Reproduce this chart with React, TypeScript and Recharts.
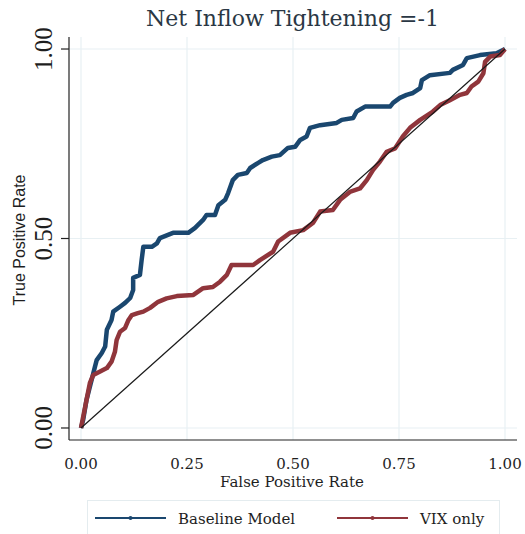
import React from 'react';
import { LineChart, Line, XAxis, YAxis, CartesianGrid, Legend, Label } from 'recharts';

const titleText = 'Net Inflow Tightening =-1';
const xTicks = [0, 0.25, 0.5, 0.75, 1];
const yTicks = [0, 0.5, 1];

const baselineFpr = [0, 0.005, 0.013, 0.033, 0.037, 0.049, 0.057, 0.061, 0.072, 0.076, 0.092, 0.104, 0.116, 0.123, 0.123, 0.139, 0.143, 0.147, 0.167, 0.179, 0.186, 0.217, 0.253, 0.269, 0.288, 0.296, 0.316, 0.324, 0.34, 0.347, 0.358, 0.37, 0.391, 0.399, 0.417, 0.429, 0.45, 0.469, 0.488, 0.505, 0.517, 0.532, 0.54, 0.564, 0.603, 0.615, 0.642, 0.65, 0.67, 0.729, 0.736, 0.752, 0.768, 0.783, 0.8, 0.804, 0.823, 0.87, 0.877, 0.901, 0.91, 0.941, 0.98, 1];
const baselineTpr = [0, 0.021, 0.074, 0.162, 0.179, 0.198, 0.215, 0.259, 0.285, 0.307, 0.32, 0.33, 0.343, 0.364, 0.396, 0.404, 0.443, 0.478, 0.478, 0.487, 0.501, 0.515, 0.515, 0.528, 0.549, 0.562, 0.562, 0.588, 0.602, 0.62, 0.654, 0.668, 0.673, 0.686, 0.699, 0.707, 0.716, 0.72, 0.739, 0.742, 0.76, 0.769, 0.792, 0.799, 0.805, 0.813, 0.818, 0.835, 0.848, 0.848, 0.858, 0.871, 0.879, 0.884, 0.897, 0.918, 0.931, 0.937, 0.945, 0.958, 0.976, 0.984, 0.989, 1];

const vixFpr = [0, 0.013, 0.021, 0.029, 0.045, 0.061, 0.072, 0.08, 0.084, 0.092, 0.104, 0.112, 0.12, 0.134, 0.147, 0.163, 0.182, 0.202, 0.226, 0.265, 0.288, 0.311, 0.328, 0.344, 0.355, 0.406, 0.422, 0.453, 0.465, 0.493, 0.524, 0.547, 0.564, 0.594, 0.611, 0.634, 0.658, 0.674, 0.689, 0.705, 0.721, 0.741, 0.759, 0.776, 0.8, 0.83, 0.847, 0.87, 0.894, 0.91, 0.921, 0.937, 0.949, 0.953, 0.965, 0.988, 1];
const vixTpr = [0, 0.074, 0.119, 0.14, 0.149, 0.158, 0.175, 0.201, 0.232, 0.254, 0.264, 0.285, 0.298, 0.303, 0.307, 0.317, 0.333, 0.342, 0.348, 0.351, 0.369, 0.372, 0.386, 0.404, 0.43, 0.43, 0.443, 0.465, 0.492, 0.515, 0.522, 0.541, 0.571, 0.575, 0.602, 0.623, 0.632, 0.654, 0.681, 0.703, 0.729, 0.738, 0.769, 0.792, 0.813, 0.835, 0.852, 0.865, 0.879, 0.884, 0.901, 0.914, 0.936, 0.966, 0.98, 0.984, 1];

const refFpr = [0, 1];
const refTpr = [0, 1];

const seriesNames = ['Baseline Model', 'VIX only'];
const BLUE = '#1a476f';
const RED = '#90353b';

const toPoints = (xs: number[], ys: number[]) => xs.map((x, i) => ({ x, y: ys[i] }));
const baselineData = toPoints(baselineFpr, baselineTpr);
const vixData = toPoints(vixFpr, vixTpr);
const refData = toPoints(refFpr, refTpr);

const SERIF = '"Liberation Serif", "DejaVu Serif", serif';
const SERIF2 = '"DejaVu Serif", serif';
const SANS = '"Liberation Sans", Arial, sans-serif';

const XTick = (props: any) => {
  const { x, y, payload } = props;
  return (
    <text x={x} y={y + 21} textAnchor="middle" fontFamily={SERIF2} fontSize={15} fill="#1e1e1e">
      {Number(payload.value).toFixed(2)}
    </text>
  );
};

const YTick = (props: any) => {
  const { y, payload } = props;
  const bx = 52;
  return (
    <text x={bx} y={y} transform={`rotate(-90, ${bx}, ${y})`} textAnchor="middle" fontFamily={SERIF} fontSize={25} fill="#1e1e1e">
      {Number(payload.value).toFixed(2)}
    </text>
  );
};

const LegendContent = () => {
  const items = [
    { name: seriesNames[0], color: BLUE, x0: 95, tx: 178 },
    { name: seriesNames[1], color: RED, x0: 337, tx: 420 },
  ];
  return (
    <svg width={525} height={40} style={{ display: 'block' }}>
      <rect x={87.5} y={0.5} width={412} height={45} fill="#fff" stroke="#e4ecef" strokeWidth={1} />
      {items.map((it) => (
        <g key={it.name}>
          <line x1={it.x0} x2={it.x0 + 71} y1={18} y2={18} stroke={it.color} strokeWidth={2} />
          <circle cx={it.x0 + 35.5} cy={18} r={2} fill={it.color} />
          <text x={it.tx} y={24} fontFamily={SERIF2} fontSize={15} fill="#1e1e1e">{it.name}</text>
        </g>
      ))}
    </svg>
  );
};

export default function App() {
  return (
    <div style={{ position: 'absolute', left: 0, top: 0, width: 525, height: 534, background: '#fff', overflow: 'hidden' }}>
      <div style={{ position: 'absolute', left: 0, top: 3, width: 585, textAlign: 'center', fontFamily: SERIF2, fontSize: 22, color: '#2a3744', lineHeight: '32px' }}>
        {titleText}
      </div>
      <LineChart width={525} height={534} margin={{ top: 37, right: 8, left: 0, bottom: 0 }} style={{ position: 'absolute', left: 0, top: 0 }}>
        <CartesianGrid stroke="#e8f0f3" strokeWidth={1.2} horizontalValues={yTicks} verticalValues={xTicks} />
        <XAxis
          type="number"
          dataKey="x"
          domain={[-0.0283, 1.0283]}
          ticks={xTicks}
          interval={0}
          allowDataOverflow
          height={94}
          axisLine={{ stroke: '#222', strokeWidth: 1.2 }}
          tickLine={false}
          tick={<XTick />}
        >
          <Label
            content={() => (
              <text x={292} y={487} textAnchor="middle" fontFamily={SERIF2} fontSize={15} fill="#1e1e1e">
                False Positive Rate
              </text>
            )}
          />
        </XAxis>
        <YAxis
          type="number"
          dataKey="y"
          domain={[-0.0317, 1.0317]}
          ticks={yTicks}
          interval={0}
          allowDataOverflow
          width={69}
          axisLine={{ stroke: '#222', strokeWidth: 1.2 }}
          tickLine={{ stroke: '#222', strokeWidth: 1.2 }}
          tickSize={8}
          tick={<YTick />}
        >
          <Label
            content={() => (
              <text x={25} y={240} transform="rotate(-90, 25, 240)" textAnchor="middle" fontFamily={SANS} fontSize={16} fill="#1e1e1e">
                True Positive Rate
              </text>
            )}
          />
        </YAxis>
        <Legend
          verticalAlign="middle"
          align="center"
          layout="horizontal"
          content={<LegendContent />}
          wrapperStyle={{ position: 'absolute', left: 0, top: 500, width: 525, height: 40 }}
        />
        <Line data={baselineData} dataKey="y" name={seriesNames[0]} stroke={BLUE} strokeWidth={4.5} dot={false} isAnimationActive={false} strokeLinejoin="round" />
        <Line data={vixData} dataKey="y" name={seriesNames[1]} stroke={RED} strokeWidth={4.5} dot={false} isAnimationActive={false} strokeLinejoin="round" />
        <Line data={refData} dataKey="y" stroke="#1a1a1a" strokeWidth={1.2} dot={false} isAnimationActive={false} legendType="none" />
      </LineChart>
    </div>
  );
}
